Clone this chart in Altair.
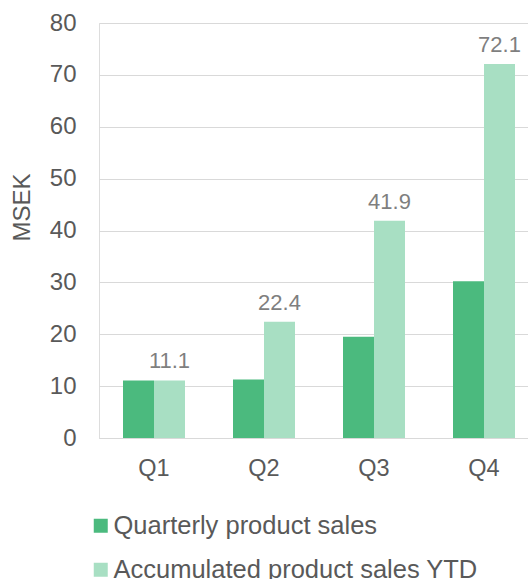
import altair as alt
import pandas as pd

quarters = ["Q1", "Q2", "Q3", "Q4"]
quarterly = [11.1, 11.3, 19.5, 30.2]
accumulated = [11.1, 22.4, 41.9, 72.1]
series_names = ["Quarterly product sales", "Accumulated product sales YTD"]
colors = ["#4BBA7E", "#A8DFC3"]

rows = []
for q, a, b in zip(quarters, quarterly, accumulated):
    rows.append({"quarter": q, "series": series_names[0], "value": a})
    rows.append({"quarter": q, "series": series_names[1], "value": b})
df = pd.DataFrame(rows)

FONT = "Liberation Sans"

x_enc = alt.X("quarter:N", sort=quarters,
              scale=alt.Scale(range=[0, 440], paddingInner=0.4364, paddingOuter=0.2182),
              axis=alt.Axis(title=None, labelAngle=0, labelFont=FONT, labelFontSize=23.5,
                            labelColor="#595959", labelPadding=18, ticks=False,
                            domain=True, domainColor="#D9D9D9", grid=False))
xoff_enc = alt.XOffset("series:N", sort=series_names,
                       scale=alt.Scale(domain=series_names, paddingInner=0, paddingOuter=0))

y_enc = alt.Y("value:Q",
              scale=alt.Scale(domain=[0, 80], nice=False),
              axis=alt.Axis(values=list(range(0, 81, 10)), title="MSEK",
                            titleFont=FONT, titleFontSize=24, titleFontWeight="normal",
                            titleColor="#595959", titleX=-77, titleY=184,
                            titleAngle=-90, titleAlign="center", titleBaseline="middle",
                            labelFont=FONT, labelFontSize=24, labelColor="#595959",
                            labelPadding=23, ticks=False, domain=False,
                            grid=True, gridColor="#D9D9D9", gridWidth=1))

bars = alt.Chart(df).mark_bar().encode(
    x=x_enc,
    xOffset=xoff_enc,
    y=y_enc,
    color=alt.Color("series:N", sort=series_names,
                    scale=alt.Scale(domain=series_names, range=colors),
                    legend=alt.Legend(title=None, orient="none", legendX=-11, legendY=490,
                                      direction="vertical", symbolType="square",
                                      symbolSize=196, symbolStrokeWidth=0,
                                      labelFont=FONT, labelFontSize=25.5,
                                      labelColor="#595959", labelOffset=0,
                                      rowPadding=17, labelLimit=500)),
)

labels = alt.Chart(df).transform_filter(
    alt.datum.series == series_names[1]
).mark_text(baseline="bottom", dy=-7, font=FONT, fontSize=22, color="#7F7F7F").encode(
    x=alt.X("quarter:N", sort=quarters),
    xOffset=alt.XOffset("series:N", sort=series_names),
    y="value:Q",
    text=alt.Text("value:Q", format=".1f"),
)

chart = alt.layer(bars, labels).properties(
    width=429, height=415,
    autosize=alt.AutoSizeParams(type="none"),
    padding={"left": 99, "top": 23, "right": 0, "bottom": 141},
).configure_view(stroke=None).configure(background="white")

chart.save("out.html", embed_options={"renderer": "svg", "actions": False})
